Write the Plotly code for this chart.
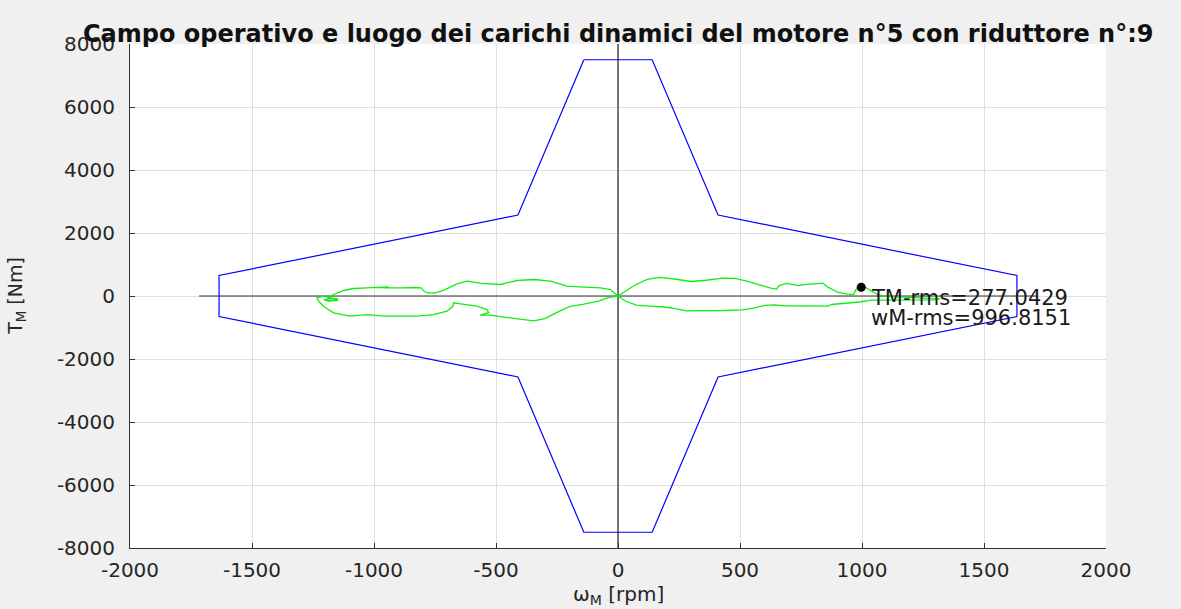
import plotly.graph_objects as go

# Operating envelope of the motor (speed rpm vs torque Nm)
wm_env = [-140, 140, 410, 1635, 1635, 410, 140, -140, -410, -1635, -1635, -410, -140]
tm_env = [7500, 7500, 2570, 650, -650, -2570, -7500, -7500, -2570, -650, 650, 2570, 7500]

# Dynamic load locus over one motion cycle
wm_load = [0, 30, 70, 120, 170, 230, 300, 360, 430, 480, 540, 590, 630, 650, 660, 690, 740, 760,
           810, 840, 860, 900, 940, 965, 975, 990, 1010, 1030, 1050, 1065, 1100, 1160, 1230, 1300,
           1320, 1300, 1230, 1160, 1100, 1040, 990, 940, 900, 875, 860, 800, 740, 680, 640, 600,
           560, 510, 440, 380, 320, 280, 240, 190, 130, 75, 30, 0,
           -40, -80, -140, -200, -250, -300, -345, -410, -480, -525, -565, -530, -537, -578, -646,
           -674, -676, -701, -756, -824, -892, -961, -1029, -1097, -1166, -1207, -1227, -1234, -1207,
           -1180, -1150, -1150, -1185, -1205, -1180, -1150, -1165, -1195, -1185,
           -1166, -1125, -1084, -1029, -985, -965, -940, -950, -975, -920, -892, -824, -805, -795,
           -780, -750, -715, -660, -619, -560, -482, -414, -345, -277, -209, -140, -72, -31, 0]
tm_load = [0, 150, 350, 530, 590, 540, 460, 500, 570, 560, 450, 330, 240, 220, 330, 400, 330, 360,
           400, 410, 280, 120, 60, 40, 200, 310, 290, 200, 100, 40, -10, -30, -40, -60,
           -90, -120, -120, -110, -115, -130, -190, -215, -240, -270, -320, -320, -300, -310, -280, -300,
           -380, -440, -460, -470, -480, -470, -410, -350, -320, -290, -160, 0,
           -50, -160, -260, -340, -520, -720, -790, -730, -660, -610, -605, -530, -430, -320, -250,
           -217, -320, -480, -590, -640, -640, -640, -590, -640, -534, -323, -164, -58, -5,
           -60, -90, -140, -160, -120, -85, -110, -150, -140, -70,
           48, 175, 238, 259, 270, 295, 285, 262, 268, 265, 259, 270, 250, 150,
           100, 100, 180, 386, 471, 400, 365, 492, 524, 471, 312, 280, 259, 206, 0]

# RMS working point
tm_rms = 277.0429
wm_rms = 996.8151

# Reference axes through the origin
w_axis = [-1717, 1717]
t_axis = [-8000, 8000]

x_ticks = [-2000, -1500, -1000, -500, 0, 500, 1000, 1500, 2000]
y_ticks = [-8000, -6000, -4000, -2000, 0, 2000, 4000, 6000, 8000]

FONT = "DejaVu Sans"
TXT = "#262626"

fig = go.Figure()
fig.add_trace(go.Scatter(x=wm_env, y=tm_env, mode="lines",
                         line=dict(color="#0000ff", width=1.2), hoverinfo="skip"))
fig.add_trace(go.Scatter(x=w_axis, y=[0, 0], mode="lines",
                         line=dict(color="#333333", width=1.2), hoverinfo="skip"))
fig.add_trace(go.Scatter(x=[0, 0], y=t_axis, mode="lines",
                         line=dict(color="#222222", width=1.2), hoverinfo="skip"))
fig.add_trace(go.Scatter(x=wm_load, y=tm_load, mode="lines",
                         line=dict(color="#11ee11", width=1.3), hoverinfo="skip"))
fig.add_trace(go.Scatter(x=[wm_rms], y=[tm_rms], mode="markers",
                         marker=dict(color="black", size=9), hoverinfo="skip"))

annotations = [
    dict(text="<b>Campo operativo e luogo dei carichi dinamici del motore n°5 con riduttore n°:9</b>",
         xref="paper", yref="paper", x=0.5, y=1.0208, xanchor="center", yanchor="middle",
         showarrow=False, font=dict(family=FONT, size=24, color="#111111")),
    dict(text="ω<sub>M</sub> [rpm]", xref="paper", yref="paper", x=0.5, y=-0.094,
         xanchor="center", yanchor="middle", showarrow=False,
         font=dict(family=FONT, size=20, color=TXT)),
    dict(text="T<sub>M</sub> [Nm]", xref="paper", yref="paper", x=-0.117, y=0.5,
         xanchor="center", yanchor="middle", textangle=-90, showarrow=False,
         font=dict(family=FONT, size=19, color=TXT)),
    dict(text=f"TM-rms={tm_rms:.4f}", xref="x", yref="y", x=1030, y=-48,
         xanchor="left", yanchor="middle", showarrow=False,
         font=dict(family=FONT, size=21, color="#1a1a1a")),
    dict(text=f"wM-rms={wm_rms:.4f}", xref="x", yref="y", x=1030, y=-683,
         xanchor="left", yanchor="middle", showarrow=False,
         font=dict(family=FONT, size=21, color="#1a1a1a")),
]

axis_common = dict(showgrid=True, gridcolor="#dfdfdf", gridwidth=1, zeroline=False,
                   showline=True, linecolor="#333333", linewidth=1, mirror=False,
                   ticks="inside", ticklen=5, tickcolor="#333333",
                   tickfont=dict(family=FONT, size=20, color=TXT))

fig.update_layout(
    width=1181, height=609,
    margin=dict(l=130, r=75, t=44, b=61),
    paper_bgcolor="#f0f0f0", plot_bgcolor="white",
    showlegend=False,
    xaxis=dict(range=[-2000, 2000], tickvals=x_ticks, ticktext=[str(v) for v in x_ticks],
               ticklabelstandoff=4, **axis_common),
    yaxis=dict(range=[-8000, 8000], tickvals=y_ticks, ticktext=[str(v) for v in y_ticks],
               ticklabelstandoff=10, **axis_common),
    annotations=annotations,
)

fig.write_html("out.html")
